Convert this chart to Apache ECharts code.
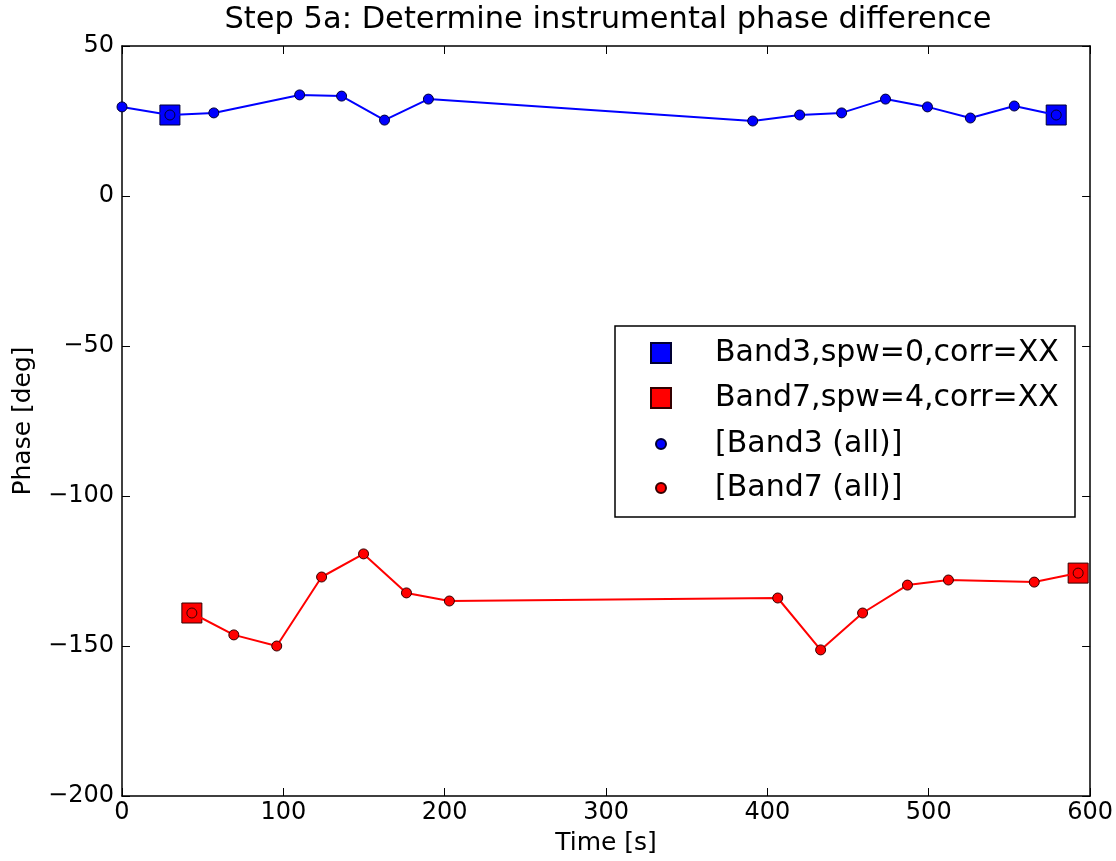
<!DOCTYPE html>
<html>
<head>
<meta charset="utf-8">
<script src="https://cdn.jsdelivr.net/npm/echarts@6/dist/echarts.min.js"></script>
<style>html,body{margin:0;padding:0;background:#fff;overflow:hidden}#c{width:1116px;height:861px}</style>
</head>
<body>
<div id="c"></div>
<script>
var titleText = 'Step 5a: Determine instrumental phase difference';
var xTicks = [0, 100, 200, 300, 400, 500, 600];
var yTicks = [-200, -150, -100, -50, 0, 50];

var band3Time = [0, 29.7, 56.9, 110.1, 136.1, 162.7, 189.9, 390.9, 420, 446, 473.2, 499.2, 525.8, 553, 579];
var band3Phase = [29.7, 27, 27.7, 33.7, 33.3, 25.3, 32.3, 25, 27, 27.7, 32.3, 29.7, 26, 30, 27];
var band7Time = [43.3, 69.3, 95.9, 123.7, 149.7, 176.3, 202.9, 406.4, 433, 459, 486.8, 512.2, 565.4, 592.6];
var band7Phase = [-139, -146.3, -150, -127, -119.3, -132.3, -135, -134, -151.3, -139, -129.7, -128, -128.7, -125.7];

var band3SqTime = [29.7, 579];
var band3SqPhase = [27, 27];
var band7SqTime = [43.3, 592.6];
var band7SqPhase = [-139, -125.7];

var names = ['Band3,spw=0,corr=XX', 'Band7,spw=4,corr=XX', '[Band3 (all)]', '[Band7 (all)]'];

function zip(a, b) { return a.map(function (v, i) { return [v, b[i]]; }); }
function minus(v) { return String(v).replace('-', '\u2212'); }

var font = 'DejaVu Sans';
var chart = echarts.init(document.getElementById('c'), null, { renderer: 'canvas', width: 1116, height: 861 });

function axisBase(extra) {
  return Object.assign({
    axisLine: { show: true, onZero: false, lineStyle: { color: '#000', width: 1.5 } },
    axisTick: { show: true, inside: true, length: 8, lineStyle: { color: '#000', width: 1 } },
    splitLine: { show: false }
  }, extra);
}

chart.setOption({
  animation: false,
  backgroundColor: '#fff',
  title: {
    text: titleText, left: 603, top: 0, textAlign: 'center',
    textStyle: { fontFamily: font, fontSize: 30.5, fontWeight: 'normal', color: '#000' }
  },
  grid: { left: 122, top: 46, width: 970, height: 750, containLabel: false },
  xAxis: [
    axisBase({
      type: 'value', min: xTicks[0], max: xTicks[xTicks.length - 1], interval: 100, position: 'bottom',
      name: 'Time [s]', nameLocation: 'middle', nameGap: 35,
      nameTextStyle: { fontFamily: font, fontSize: 25, color: '#000' },
      axisLabel: { fontFamily: font, fontSize: 24, color: '#000', margin: 5 }
    }),
    axisBase({
      type: 'value', min: xTicks[0], max: xTicks[xTicks.length - 1], interval: 100, position: 'top',
      axisLabel: { show: false }
    })
  ],
  yAxis: [
    axisBase({
      type: 'value', min: yTicks[0], max: yTicks[yTicks.length - 1], interval: 50, position: 'left',
      name: 'Phase [deg]', nameLocation: 'middle', nameGap: 86, nameRotate: 90,
      nameTextStyle: { fontFamily: font, fontSize: 25, color: '#000' },
      axisLabel: { fontFamily: font, fontSize: 24, color: '#000', margin: 8, formatter: minus }
    }),
    axisBase({
      type: 'value', min: yTicks[0], max: yTicks[yTicks.length - 1], interval: 50, position: 'right',
      axisLabel: { show: false }
    })
  ],
  legend: [
    {
      orient: 'vertical', left: 645, top: 333, itemWidth: 20, itemHeight: 20, itemGap: 15,
      data: [{ name: names[0], icon: 'rect' }, { name: names[1], icon: 'rect' }],
      textStyle: { fontFamily: font, fontSize: 30, color: '#000', padding: [0, 0, 0, 39] },
      selectedMode: false
    },
    {
      orient: 'vertical', left: 650, top: 424, itemWidth: 10, itemHeight: 10, itemGap: 14,
      data: [{ name: names[2], icon: 'circle' }, { name: names[3], icon: 'circle' }],
      textStyle: { fontFamily: font, fontSize: 30, color: '#000', padding: [0, 0, 0, 44] },
      selectedMode: false
    }
  ],
  graphic: [{
    type: 'rect', shape: { x: 615, y: 326, width: 460, height: 191 },
    style: { fill: 'none', stroke: '#000', lineWidth: 1.5 }, z: 100
  }],
  series: [
    {
      name: names[0], type: 'scatter', symbol: 'rect', symbolSize: 20, z: 2,
      itemStyle: { color: '#0000ff', opacity: 1, borderColor: '#000033', borderWidth: 1 },
      data: zip(band3SqTime, band3SqPhase)
    },
    {
      name: names[1], type: 'scatter', symbol: 'rect', symbolSize: 20, z: 2,
      itemStyle: { color: '#ff0000', opacity: 1, borderColor: '#330000', borderWidth: 1 },
      data: zip(band7SqTime, band7SqPhase)
    },
    {
      name: names[2], type: 'line', symbol: 'circle', symbolSize: 10, showAllSymbol: true, z: 3,
      lineStyle: { color: '#0000ff', width: 2 },
      itemStyle: { color: '#0000ff', borderColor: '#000033', borderWidth: 1 },
      data: zip(band3Time, band3Phase)
    },
    {
      name: names[3], type: 'line', symbol: 'circle', symbolSize: 10, showAllSymbol: true, z: 3,
      lineStyle: { color: '#ff0000', width: 2 },
      itemStyle: { color: '#ff0000', borderColor: '#330000', borderWidth: 1 },
      data: zip(band7Time, band7Phase)
    }
  ]
});
</script>
</body>
</html>
